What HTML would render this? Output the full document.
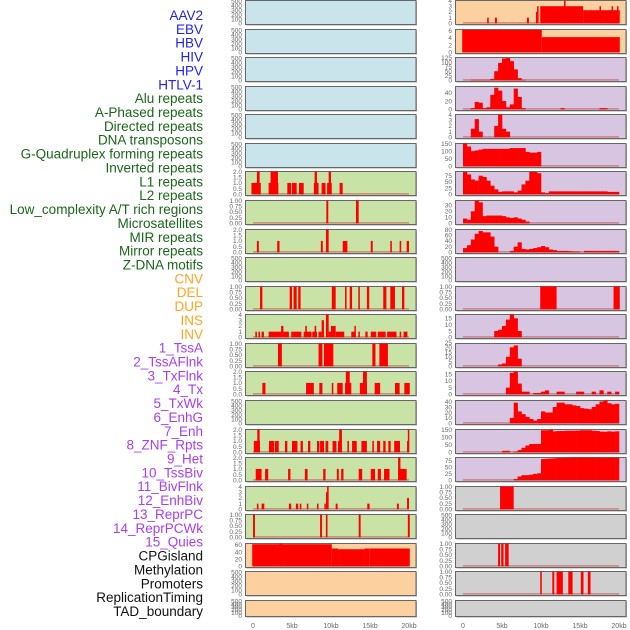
<!DOCTYPE html>
<html><head><meta charset="utf-8"><style>
html,body{margin:0;padding:0;background:#fff;}
svg{display:block;font-family:"Liberation Sans",sans-serif;}
</style></head><body>
<svg id="chart" width="630" height="630" viewBox="0 0 630 630"></svg>
<script>
const labels = ["AAV2","EBV","HBV","HIV","HPV","HTLV-1","Alu repeats","A-Phased repeats","Directed repeats","DNA transposons","G-Quadruplex forming repeats","Inverted repeats","L1 repeats","L2 repeats","Low_complexity A/T rich regions","Microsatellites","MIR repeats","Mirror repeats","Z-DNA motifs","CNV","DEL","DUP","INS","INV","1_TssA","2_TssAFlnk","3_TxFlnk","4_Tx","5_TxWk","6_EnhG","7_Enh","8_ZNF_Rpts","9_Het","10_TssBiv","11_BivFlnk","12_EnhBiv","13_ReprPC","14_ReprPCWk","15_Quies","CPGisland","Methylation","Promoters","ReplicationTiming","TAD_boundary"];
const labelGroups = [6,13,5,15,5];
const groupColors = ["#2222ee","#1a661a","#ffa51f","#a43ff5","#111111"];
const xTicks = [0,5,10,15,20];
const xTickLabels = ["0","5kb","10kb","15kb","20kb"];

const T_EMPTY=[0,100,200,300,400,500], T_1=[0,0.25,0.5,0.75,1], T_2=[0,0.5,1,1.5,2], T_4=[0,1,2,3,4];

const L07=[[-0.2,1.0,1],[0.5,0.85,2],[2.0,3.25,1],[2.25,3.2,2],[4.4,4.9,1],[5.0,5.6,1],[5.9,6.5,1],[7.8,8.4,1],[7.9,8.2,2],[8.8,9.3,1],[9.5,10.1,1],[9.7,10.0,2],[11.1,11.5,1]];
const L08=[[9.4,9.65,1],[13.2,13.55,1]];
const L09=[[0.5,0.75,1],[3.1,3.4,1],[8.7,8.95,1],[9.35,9.7,2],[11.5,12.1,1],[15.1,15.35,1],[17.6,17.8,1],[18.8,19.0,1],[19.7,20.0,1]];
const L11=[[0.9,1.2,1],[4.7,5.0,1],[5.2,5.6,1],[5.8,6.1,1],[10.1,10.6,1],[11.8,12.0,1],[12.4,12.7,1],[13.5,13.7,1],[14.6,14.9,1],[16.7,17.1,1],[17.6,18.2,1],[19.1,19.4,1]];
const L12=[[0.3,0.5,1],[0.7,0.9,1],[1.1,1.4,1],[2.0,3.6,1],[3.6,3.9,2],[3.9,4.6,1],[4.9,6.2,1],[6.5,7.5,1],[6.7,6.9,2],[7.6,8.2,1],[7.9,8.1,2],[8.4,8.8,1],[8.8,9.1,3],[9.35,9.7,4],[9.7,10.0,1],[10.0,10.6,2],[10.6,11.7,1],[12.6,13.1,1],[13.0,13.15,2],[13.5,13.7,1],[14.4,14.7,1],[15.1,15.8,1],[16.0,17.0,1],[17.2,18.4,1],[18.8,19.0,1],[19.3,19.8,1]];
const L13=[[3.2,3.7,1],[8.4,8.9,1],[9.1,10.3,1],[15.3,15.7,1],[16.2,17.3,1]];
const L14=[[1.2,1.6,1],[6.8,7.8,1],[8.5,8.9,1],[10.1,10.3,1],[10.8,11.5,1],[11.8,12.6,1],[11.9,12.4,2],[13.7,14.6,1],[14.1,14.6,2],[15.6,16.3,1],[18.2,18.8,1],[19.4,20.1,1]];
const L16=[[0.1,0.9,1],[0.55,0.85,2],[2.05,2.7,1],[2.8,3.3,1],[4.1,4.4,1],[5.0,5.7,1],[6.1,6.4,1],[7.05,7.35,1],[8.2,8.5,1],[8.6,9.1,1],[9.3,9.65,1],[10.2,10.7,1],[10.9,11.4,1],[11.05,11.4,2],[12.1,12.3,1],[12.7,13.3,1],[13.9,14.6,1],[15.3,15.5,1],[15.9,16.3,1],[16.7,17.0,1],[17.35,17.65,1],[18.1,18.85,1],[19.75,20.0,1],[19.85,20.0,2]];
const L17=[[0.35,1.1,1],[1.55,1.95,1],[4.5,4.8,1],[6.65,7.0,1],[9.0,9.3,1],[10.75,11.0,1],[11.3,11.6,1],[13.55,14.0,1],[15.1,15.65,1],[16.0,16.4,1],[16.8,17.5,1],[18.6,19.7,1],[18.6,18.9,2]];
const L18=[[0.5,0.7,1],[1.1,1.45,1],[4.6,4.9,1],[5.5,5.8,1],[6.0,6.2,1],[6.9,7.1,1],[8.2,8.4,1],[9.15,9.3,1],[9.35,9.5,3],[9.5,9.7,4],[10.6,10.85,1],[14.65,14.95,1],[18.45,18.7,1],[19.75,20.0,2]];
const L19=[[0,0.25,1],[8.6,8.85,1],[9.35,9.55,1],[13.55,13.8,1],[19.85,20.1,1]];
const L20=[[-0.1,10.1,62],[3.4,3.7,64],[10.1,10.9,50],[10.9,14.3,48],[14.3,14.9,50],[14.9,20.1,50]];

const R01=[[3.1,3.3,1],[4.1,4.35,1],[8.2,8.45,1],[9.35,9.5,2],[9.5,9.65,3],[9.9,15.4,3],[12.95,13.15,4],[15.4,20.1,2.3],[17.5,17.65,3],[19.05,19.2,3],[19.75,19.9,3]];
const R02=[[-0.1,10.1,6.2],[10.1,20.1,4.2]];
const R03=[0,0,3,3,3,3,3,8,50,95,120,122,105,60,12,3,0,0,0,0,0,0,0,0,0,0,0,0,0,0,0,0,0,0,0,0,0,0,0,0];
const R04=[0,0,3,18,16,3,5,35,52,45,20,5,12,50,30,3,0,0,0,0,0,0,0,0,0,3,0,0,0,0,0,0,0,0,0,3,3,0,0,0];
const R05=[0,0,1.5,3.2,1,0,0,0,2,4,1.5,1,0,0,0,0,0,0,0,0,0,0,0,0,0,0,0,0,0,0,0,0,0,0,0,0,0,0,0,0];
const R06=[150,130,100,105,110,115,115,115,115,115,115,115,120,120,120,120,95,90,90,95,0,0,0,0,0,0,0,0,0,0,0,0,0,0,0,0,0,0,0,0];
const R07=[90,80,60,55,75,70,55,35,20,10,12,12,12,8,15,40,55,90,90,85,8,5,12,12,12,12,12,12,12,12,12,12,12,12,12,12,12,10,10,10];
const R08=[8,6,20,38,35,12,13,13,13,13,12,10,9,10,8,6,3,0,0,0,0,0,0,0,0,0,0,0,0,0,0,0,0,0,0,0,0,0,0,0];
const R09=[15,25,45,65,75,70,70,55,20,0,0,0,5,20,35,12,10,12,15,18,22,18,10,8,5,5,5,4,3,3,0,5,5,5,5,5,5,5,5,5];
const R11=[[9.9,12.0,1],[19.3,20.1,1]];
const R12=[0,0,0,0,0,0,0,0,5,6,9,14,18,15,5,0,0,0,0,0,0,0,0,0,0,0,0,0,0,0,0,0,0,0,0,0,0,0,0,0];
const R13=[0,0,0,0,0,0,0,0,0,2,3,10,20,22,8,0,0,0,0,0,0,0,0,0,0,0,0,0,0,0,0,0,0,0,0,0,0,0,0,0];
const R14=[0,0,0,0,0,0,0,0,0,0,0,5,16,17,8,2,2,0,1,1,2,3,0,0,2,2,0,0,0,2,2,0,0,2,0,3,0,2,0,2];
const R15=[0,0,0,0,0,0,0,0,0,0,0,0,10,38,22,17,12,8,5,8,22,20,20,30,38,38,35,35,33,32,28,27,26,30,35,40,42,37,35,36];
const R16=[0,0,0,0,0,0,0,0,0,0,10,10,0,5,15,30,45,55,55,55,145,145,148,138,140,140,142,142,142,143,145,145,145,142,140,136,135,138,136,138];
const R17=[0,0,0,0,0,0,0,0,0,0,0,0,0,5,15,20,20,22,25,27,82,83,84,85,86,86,87,87,88,88,88,88,88,88,88,87,87,88,88,87];
const R18=[[4.75,6.5,1]];
const R20=[[4.5,4.75,1],[4.9,5.2,1],[5.4,5.85,1]];
const R21=[[9.9,10.1,1],[11.45,11.7,1],[12.0,12.8,1],[13.5,14.05,1],[15.1,15.45,1],[16.0,16.35,1]];

const BLUE="#c9e4eb", GREEN="#c9e2a5", ORANGE="#fdd0a0", PURPLE="#d7c5e1", GRAY="#d0d0d0";
const leftPanels=[
 [null,T_EMPTY,520,BLUE],[null,T_EMPTY,520,BLUE],[null,T_EMPTY,520,BLUE],[null,T_EMPTY,520,BLUE],[null,T_EMPTY,520,BLUE],[null,T_EMPTY,520,BLUE],
 [L07,T_2,2,GREEN],[L08,T_1,1,GREEN],[L09,T_2,2,GREEN],[null,T_EMPTY,520,GREEN],[L11,T_1,1,GREEN],[L12,T_4,4,GREEN],[L13,T_1,1,GREEN],
 [L14,T_2,2,GREEN],[null,T_EMPTY,520,GREEN],[L16,T_2,2,GREEN],[L17,T_2,2,GREEN],[L18,T_4,4,GREEN],[L19,T_1,1,GREEN],
 [L20,[0,20,40,60],64,ORANGE],[null,T_EMPTY,520,ORANGE],[null,T_EMPTY,520,ORANGE]];
const rightPanels=[
 [R01,T_4,4,ORANGE],[R02,[0,2,4,6],6.3,ORANGE],
 [R03,[0,25,50,75,100,125],125,PURPLE],[R04,[0,20,40],55,PURPLE],[R05,T_4,4,PURPLE],[R06,[0,50,100,150],150,PURPLE],
 [R07,[0,25,50,75],92,PURPLE],[R08,[0,10,20,30],38,PURPLE],[R09,[0,20,40,60,80],80,PURPLE],[null,T_EMPTY,520,PURPLE],
 [R11,T_1,1,PURPLE],[R12,[0,5,10,15],18,PURPLE],[R13,[0,5,10,15,20,25],24,PURPLE],[R14,[0,5,10,15],17,PURPLE],
 [R15,[0,10,20,30,40],42,PURPLE],[R16,[0,50,100,150],150,PURPLE],[R17,[0,25,50,75],88,PURPLE],
 [R18,T_1,1,GRAY],[null,T_EMPTY,520,GRAY],[R20,T_1,1,GRAY],[R21,T_1,1,GRAY],[null,T_EMPTY,520,GRAY]];

const NS="http://www.w3.org/2000/svg";
const svg=document.getElementById("chart");
function mk(tag,attrs,parent){const e=document.createElementNS(NS,tag);for(const k in attrs)e.setAttribute(k,attrs[k]);(parent||svg).appendChild(e);return e;}

let li=0;
labelGroups.forEach((n,g)=>{for(let k=0;k<n;k++){
  const t=mk("text",{x:203,y:15+li*13.86+5,"text-anchor":"end","font-size":"13.5",fill:groupColors[g]});
  t.textContent=labels[li];
  
  
  li++;}});

function fmt(v,ticks){const dec=ticks.some(t=>t%1!==0)?(ticks.some(t=>(t*10)%1!==0)?2:1):0;return v.toFixed(dec);}

function drawPanel(p,i,col){
  const [data,ticks,ymax,bg]=p;
  const px=col===0?245.5:455.5, pw=170.5;
  const top=Math.round(i*28.57)+0.5, h=(i===21)?16:24;
  const x0=col===0?253:463;
  const xs=kb=>x0+kb*7.8;
  const ymin=-0.05*ymax;
  const ys=v=>top+h*(ymax-v)/(ymax-ymin);
  const g=mk("g",{});
  
  
  mk("rect",{x:px+1,y:top+1,width:pw,height:h,fill:"#aaa"},g);
  mk("rect",{x:px,y:top,width:pw,height:h,fill:bg,stroke:"#666","stroke-width":1},g);
  if(data){
    mk("line",{x1:xs(0),x2:xs(20),y1:ys(0)-0.5,y2:ys(0)-0.5,stroke:"rgba(200,70,70,0.55)","stroke-width":1.5},g);
    const bars=mk("g",{fill:"#ff0000"},g);
    if(typeof data[0]==="number"){
      data.forEach((v,b)=>{if(v<=0)return;
        const r=mk("rect",{x:xs(b*0.5),y:ys(v),width:xs((b+1)*0.5)-xs(b*0.5)+0.3,height:ys(0)-ys(v)},bars);
        
        });
    } else {
      data.forEach(s=>{
        const r=mk("rect",{x:xs(s[0]),y:ys(s[2]),width:Math.max(1.5,xs(s[1])-xs(s[0])),height:ys(0)-ys(s[2])},bars);
        
        });
    }
  }
  const tx=col===0?242:452;
  ticks.forEach(v=>{
    const t=mk("text",{x:tx,y:ys(v)+2.3,"text-anchor":"end","font-size":"6.5",fill:"#666"},g);
    t.textContent=fmt(v,ticks);
    
    
  });
  if(i===21){
    xTicks.forEach((v,k)=>{
      const t=mk("text",{x:xs(v),y:628,"text-anchor":"middle","font-size":"7",fill:"#666"});
      t.textContent=xTickLabels[k];
      
      
    });
  }
}
leftPanels.forEach((p,i)=>drawPanel(p,i,0));
rightPanels.forEach((p,i)=>drawPanel(p,i,1));
</script>
</body></html>
